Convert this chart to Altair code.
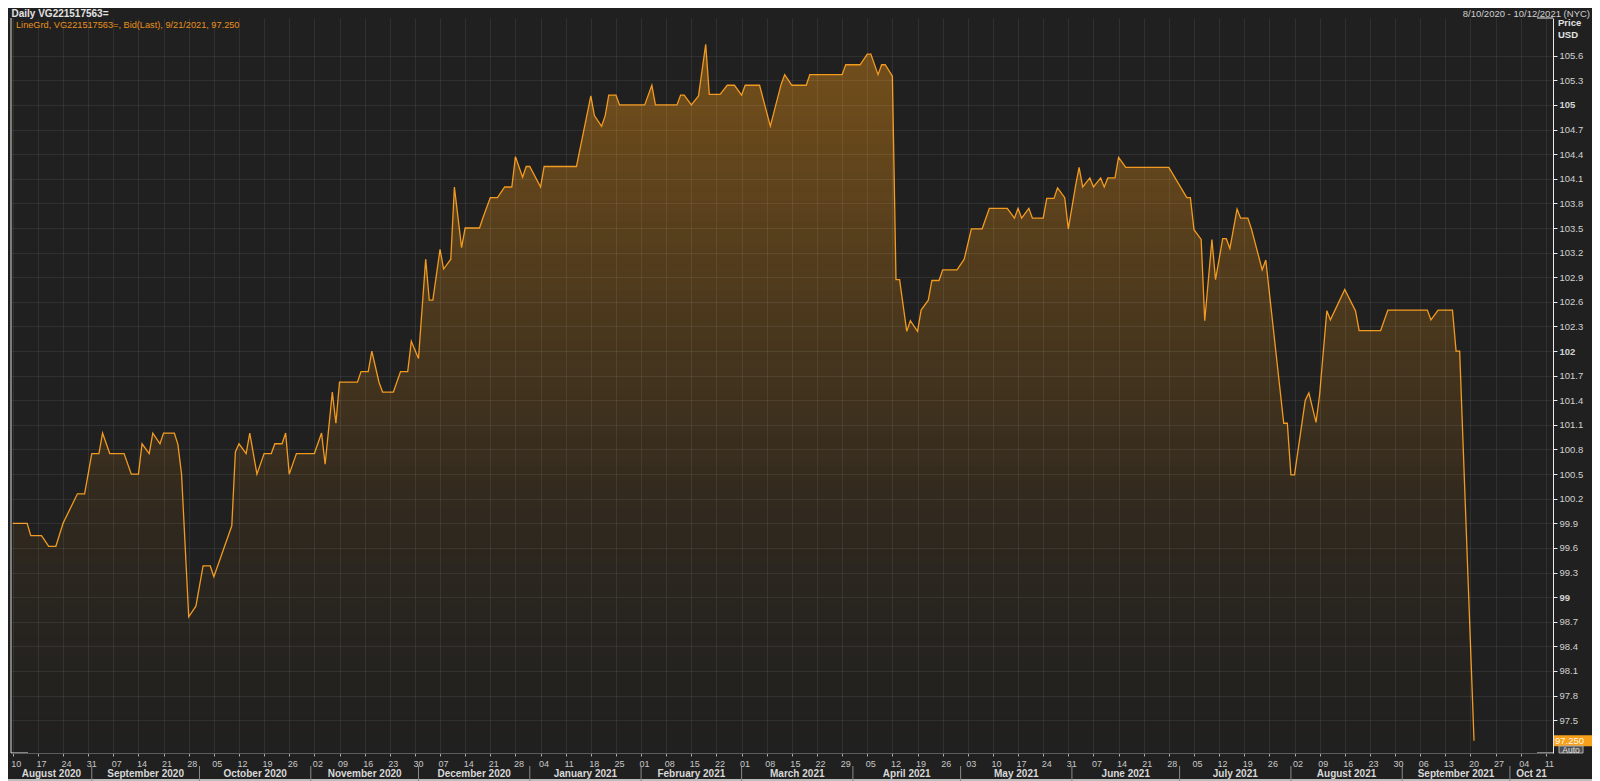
import altair as alt
import numpy as np
import pandas as pd

# ---------------- data ----------------
dates = [
    "2020-08-10", "2020-08-14", "2020-08-15", "2020-08-18", "2020-08-20", "2020-08-22",
    "2020-08-24", "2020-08-28", "2020-08-30", "2020-09-01", "2020-09-03", "2020-09-04",
    "2020-09-06", "2020-09-10", "2020-09-12", "2020-09-14", "2020-09-15", "2020-09-17",
    "2020-09-18", "2020-09-20", "2020-09-21", "2020-09-24", "2020-09-25", "2020-09-26",
    "2020-09-28", "2020-09-30", "2020-10-02", "2020-10-04", "2020-10-05", "2020-10-10",
    "2020-10-11", "2020-10-12", "2020-10-14", "2020-10-15", "2020-10-17", "2020-10-19",
    "2020-10-21", "2020-10-22", "2020-10-24", "2020-10-25", "2020-10-26", "2020-10-28",
    "2020-11-02", "2020-11-04", "2020-11-05", "2020-11-07", "2020-11-08", "2020-11-09",
    "2020-11-14", "2020-11-15", "2020-11-17", "2020-11-18", "2020-11-20", "2020-11-21",
    "2020-11-24", "2020-11-26", "2020-11-28", "2020-11-29", "2020-12-01", "2020-12-03",
    "2020-12-04", "2020-12-05", "2020-12-07", "2020-12-08", "2020-12-10", "2020-12-11",
    "2020-12-13", "2020-12-14", "2020-12-18", "2020-12-19", "2020-12-21", "2020-12-23",
    "2020-12-25", "2020-12-27", "2020-12-28", "2020-12-30", "2020-12-31", "2021-01-01",
    "2021-01-04", "2021-01-05", "2021-01-14", "2021-01-16", "2021-01-18", "2021-01-19",
    "2021-01-21", "2021-01-22", "2021-01-23", "2021-01-25", "2021-01-26", "2021-02-02",
    "2021-02-04", "2021-02-05", "2021-02-11", "2021-02-12", "2021-02-13", "2021-02-15",
    "2021-02-17", "2021-02-19", "2021-02-20", "2021-02-23", "2021-02-25", "2021-02-27",
    "2021-03-01", "2021-03-02", "2021-03-06", "2021-03-09", "2021-03-12", "2021-03-13",
    "2021-03-15", "2021-03-19", "2021-03-20", "2021-03-29", "2021-03-30", "2021-04-03",
    "2021-04-05", "2021-04-06", "2021-04-08", "2021-04-09", "2021-04-10", "2021-04-12",
    "2021-04-13", "2021-04-14", "2021-04-16", "2021-04-17", "2021-04-19", "2021-04-20",
    "2021-04-22", "2021-04-23", "2021-04-25", "2021-04-26", "2021-04-30", "2021-05-02",
    "2021-05-04", "2021-05-07", "2021-05-09", "2021-05-14", "2021-05-16", "2021-05-17",
    "2021-05-18", "2021-05-20", "2021-05-21", "2021-05-24", "2021-05-25", "2021-05-27",
    "2021-05-28", "2021-05-30", "2021-05-31", "2021-06-02", "2021-06-03", "2021-06-04",
    "2021-06-06", "2021-06-07", "2021-06-09", "2021-06-10", "2021-06-11", "2021-06-13",
    "2021-06-14", "2021-06-16", "2021-06-28", "2021-07-03", "2021-07-04", "2021-07-05",
    "2021-07-07", "2021-07-08", "2021-07-10", "2021-07-11", "2021-07-13", "2021-07-14",
    "2021-07-15", "2021-07-17", "2021-07-18", "2021-07-20", "2021-07-21", "2021-07-24",
    "2021-07-25", "2021-07-30", "2021-07-31", "2021-08-01", "2021-08-02", "2021-08-05",
    "2021-08-06", "2021-08-08", "2021-08-09", "2021-08-11", "2021-08-12", "2021-08-16",
    "2021-08-19", "2021-08-20", "2021-08-26", "2021-08-28", "2021-09-08", "2021-09-09",
    "2021-09-11", "2021-09-15", "2021-09-16", "2021-09-17", "2021-09-21",
]
prices = [
    99.90, 99.90, 99.75, 99.75, 99.62, 99.62,
    99.90, 100.26, 100.26, 100.75, 100.75, 101.00,
    100.75, 100.75, 100.50, 100.50, 100.87, 100.75,
    101.00, 100.87, 101.00, 101.00, 100.86, 100.50,
    98.76, 98.89, 99.38, 99.38, 99.25, 99.87,
    100.77, 100.87, 100.75, 101.00, 100.50, 100.75,
    100.75, 100.87, 100.87, 101.00, 100.50, 100.75,
    100.75, 101.00, 100.62, 101.50, 101.12, 101.62,
    101.62, 101.75, 101.75, 102.00, 101.62, 101.50,
    101.50, 101.75, 101.75, 102.12, 101.91, 103.12,
    102.62, 102.62, 103.24, 103.00, 103.12, 104.00,
    103.26, 103.50, 103.50, 103.63, 103.87, 103.87,
    104.00, 104.00, 104.37, 104.12, 104.25, 104.25,
    104.00, 104.25, 104.25, 104.68, 105.11, 104.87,
    104.74, 104.87, 105.12, 105.12, 105.00, 105.00,
    105.24, 105.00, 105.00, 105.12, 105.12, 105.00,
    105.11, 105.74, 105.13, 105.13, 105.24, 105.24,
    105.12, 105.24, 105.24, 104.74, 105.25, 105.37,
    105.24, 105.24, 105.37, 105.37, 105.49, 105.49,
    105.62, 105.62, 105.37, 105.49, 105.49, 105.35,
    102.87, 102.87, 102.24, 102.37, 102.24, 102.50,
    102.62, 102.86, 102.86, 102.99, 102.99, 103.12,
    103.49, 103.49, 103.74, 103.74, 103.62, 103.74,
    103.62, 103.74, 103.62, 103.62, 103.86, 103.86,
    103.99, 103.87, 103.49, 104.01, 104.24, 104.00,
    104.11, 104.00, 104.11, 104.00, 104.11, 104.11,
    104.36, 104.24, 104.24, 103.87, 103.87, 103.48,
    103.36, 102.37, 103.36, 102.87, 103.37, 103.37,
    103.25, 103.73, 103.62, 103.62, 103.49, 102.99,
    103.11, 101.12, 101.12, 100.49, 100.49, 101.40,
    101.49, 101.13, 101.47, 102.49, 102.38, 102.75,
    102.49, 102.25, 102.25, 102.50, 102.50, 102.38,
    102.50, 102.50, 102.00, 102.00, 97.25,
]

month_labels = [
    "August 2020", "September 2020", "October 2020", "November 2020", "December 2020",
    "January 2021", "February 2021", "March 2021", "April 2021", "May 2021",
    "June 2021", "July 2021", "August 2021", "September 2021", "Oct 21",
]
y_ticks = [round(97.5 + 0.3 * i, 1) for i in range(28)]

header_text = "Daily VG221517563="
range_text = "8/10/2020 - 10/12/2021 (NYC)"
legend_text = "LineGrd, VG221517563=, Bid(Last), 9/21/2021, 97.250"

# ---------------- layout ----------------
W, H = 1542, 735
FONT = "Liberation Sans"
BG = "#202020"
GRID = "rgba(255,255,255,0.075)"
ORANGE = "#f29a1f"
FILL = "#e48e14"
Y_MIN, Y_MAX = 97.1, 106.06

x_start = pd.Timestamp("2020-08-09T12:00", tz="UTC")
x_end = pd.Timestamp("2021-10-13T00:00", tz="UTC")


def ms(ts):
    return int(ts.value // 10**6)


week_ticks = [ms(t) for t in pd.date_range("2020-08-10", "2021-10-11", freq="7D", tz="UTC")]
month_starts = list(pd.date_range("2020-09-01", "2021-10-01", freq="MS", tz="UTC"))
edges = [x_start] + month_starts + [x_end]
month_mids = [(edges[i] + (edges[i + 1] - edges[i]) / 2).isoformat() for i in range(len(edges) - 1)]

df = pd.DataFrame({"date": dates, "price": prices})
mdf = pd.DataFrame({"mid": month_mids, "label": month_labels})
sdf = pd.DataFrame({"d": [t.isoformat() for t in month_starts]})
last = pd.DataFrame({"price": [prices[-1]], "label": [f"{prices[-1]:.3f}"]})

# vertical fill gradient: non-overlapping pixel-aligned translucent bands (styling only)
STEP = 7
n_b = H // STEP
bv = Y_MAX - np.arange(n_b + 1) * STEP * (Y_MAX - Y_MIN) / H
mid = (bv[:-1] + bv[1:]) / 2
alpha = np.interp(mid, [Y_MIN, 99.1, 99.9, 101.1, 103.1, 105.0, Y_MAX],
                  [0.0, 0.05, 0.08, 0.145, 0.26, 0.39, 0.43])
bands = pd.DataFrame({"lo": bv[1:], "hi": bv[:-1], "a": alpha, "x0": dates[0], "x1": dates[-1]})

xs = alt.Scale(type="utc", domain=[ms(x_start), ms(x_end)])
ys = alt.Scale(domain=[Y_MIN, Y_MAX], nice=False, zero=False)

x_axis = alt.Axis(
    values=week_ticks, labelExpr="utcFormat(datum.value, '%d')", title=None,
    labelFont=FONT, labelFontSize=9, labelColor="#c8c8c8", labelAngle=0,
    labelOverlap=False, labelFlush=False, labelPadding=3, labelOffset=3,
    tickColor="#aaaaaa", tickSize=3, domainColor="#5c5c5c",
    grid=True, gridColor=GRID, gridWidth=1, zindex=1,
)
y_axis = alt.Axis(
    orient="right", values=y_ticks, labelExpr="format(datum.value, '.1~f')", title=None,
    labelFont=FONT, labelFontSize=9.5, labelColor="#d2d2d2", labelPadding=2,
    labelFontWeight={"condition": {"test": "abs(datum.value - round(datum.value)) < 0.001",
                                   "value": "bold"}, "value": "normal"},
    labelOverlap=False, labelFlush=False,
    tickColor="#e8e8e8", tickSize=4, domainColor="#e8e8e8",
    grid=True, gridColor=GRID, gridWidth=1, zindex=1,
)

X = lambda f: alt.X(f, scale=xs, axis=x_axis)
Y = lambda f: alt.Y(f, scale=ys, axis=y_axis)

band_layer = alt.Chart(bands).mark_rect(color=FILL).encode(
    x=X("x0:T"), x2="x1:T", y=Y("lo:Q"), y2="hi:Q",
    opacity=alt.Opacity("a:Q", scale=None),
)
# background-coloured cover above the price line: leaves the gradient only under it
mask = alt.Chart(df).transform_calculate(top=str(Y_MAX)).mark_area(color=BG, opacity=1).encode(
    x=X("date:T"), y=Y("price:Q"), y2="top:Q",
)
line = alt.Chart(df).mark_line(color=ORANGE, strokeWidth=1.3).encode(
    x=X("date:T"), y=Y("price:Q"),
)

tag = alt.Chart(last).mark_point(
    shape="M-1,-0.25L1,-0.25L1,0.25L-1,0.25Z", size=1936, filled=True,
    color="#f7a01c", opacity=1,
).encode(x=alt.value(W + 22), y=Y("price:Q"))
tag_text = alt.Chart(last).mark_text(
    align="left", baseline="middle", font=FONT, fontSize=9.5, color="#fff8e6",
).encode(x=alt.value(W + 2), y=Y("price:Q"), text="label:N")

months = alt.Chart(mdf).mark_text(
    font=FONT, fontSize=10, fontWeight="bold", color="#d8d8d8", baseline="middle",
).encode(x=X("mid:T"), y=alt.value(H + 21), text="label:N")
seps = alt.Chart(sdf).mark_rule(color="#8a8a8a", strokeWidth=1).encode(
    x=X("d:T"), y=alt.value(H + 13), y2=alt.value(H + 28),
)


def label(text, x, y, **kw):
    return alt.Chart(pd.DataFrame({"t": [text]})).mark_text(font=FONT, **kw).encode(
        text="t:N", x=alt.value(x), y=alt.value(y))


def rule(x, y, x2, y2, color, width=1.0):
    return alt.Chart(pd.DataFrame({"a": [0]})).mark_rule(color=color, strokeWidth=width).encode(
        x=alt.value(x), y=alt.value(y), x2=alt.value(x2), y2=alt.value(y2))


auto_box = alt.Chart(pd.DataFrame({"a": [0]})).mark_rect(
    fill="#4e4e4e", stroke="#b0b0b0", strokeWidth=1,
).encode(x=alt.value(W + 6), x2=alt.value(W + 30), y=alt.value(H - 7), y2=alt.value(H))

layers = [
    band_layer, mask, line,
    rule(0, 0, 0, H, "#d8d8d8"),
    rule(0, H, 17, H, "#e8e8e8"),
    rule(W - 16, H, W, H, "#e8e8e8"),
    rule(W - 16, 0, W, 0, "#e8e8e8"),
    rule(-3, H + 27, W + 40, H + 27, "#bdbdbd", 2),
    seps, months,
    tag, tag_text, auto_box,
    label("Auto", W + 18, H - 3.5, fontSize=8.5, color="#e6e6e6", align="center", baseline="middle"),
    label(header_text, 0.5, -1.5, fontSize=10, fontWeight="bold", color="#e2e2e2",
          align="left", baseline="alphabetic"),
    label(range_text, W + 37, -1.5, fontSize=9.5, color="#cfcfcf", align="right",
          baseline="alphabetic"),
    label(legend_text, 5, 7, fontSize=9.2, color="#e8911c", align="left", baseline="middle"),
    label("Price", W + 5, 5, fontSize=9.5, fontWeight="bold", color="#e2e2e2",
          align="left", baseline="middle"),
    label("USD", W + 5, 17, fontSize=9.5, fontWeight="bold", color="#e2e2e2",
          align="left", baseline="middle"),
]

chart = alt.layer(*layers).properties(
    width=W, height=H, background=BG,
    padding={"left": 3, "top": 10, "right": 39, "bottom": 28},
    autosize=alt.AutoSizeParams(type="none"),
).configure_view(stroke=None, fill=BG)

chart.save("out.html", embed_options={"renderer": "svg", "actions": False})
